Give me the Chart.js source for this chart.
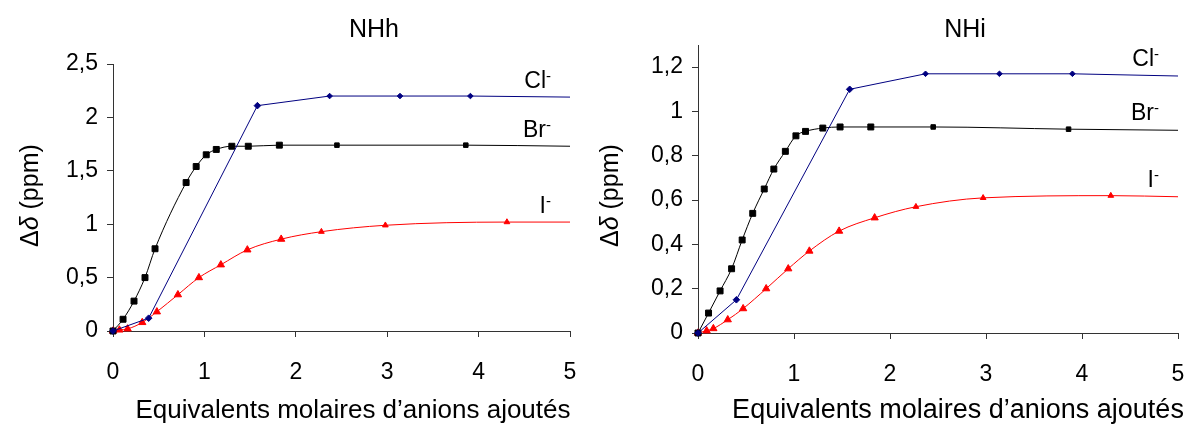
<!DOCTYPE html>
<html>
<head>
<meta charset="utf-8">
<script src="https://cdn.jsdelivr.net/npm/chart.js@4.4.0/dist/chart.umd.min.js"></script>
<style>
  body { margin: 0; background: #fff; width: 1192px; height: 425px; overflow: hidden; }
  .box { position: absolute; top: 0; width: 596px; height: 425px; }
</style>
</head>
<body>
<div class="box" style="left:0"><canvas id="nhh" width="596" height="425"></canvas></div>
<div class="box" style="left:596px"><canvas id="nhi" width="596" height="425"></canvas></div>
<script>
// x = equivalents of anion added, y = delta shift (ppm)
// NHh
var nhhClX = [0, 0.39, 1.58, 2.37, 3.14, 3.91];
var nhhClY = [0, 0.12, 2.11, 2.2, 2.2, 2.2];
var nhhBrX = [0, 0.11, 0.23, 0.35, 0.46, 0.8, 0.91, 1.02, 1.13, 1.3, 1.48, 1.82, 2.45, 3.86];
var nhhBrY = [0, 0.11, 0.28, 0.5, 0.77, 1.39, 1.54, 1.65, 1.7, 1.73, 1.73, 1.74, 1.74, 1.74];
var nhhIX = [0, 0.07, 0.16, 0.32, 0.48, 0.71, 0.94, 1.18, 1.47, 1.84, 2.28, 2.98, 4.31];
var nhhIY = [0, 0.01, 0.02, 0.08, 0.18, 0.34, 0.5, 0.62, 0.76, 0.86, 0.93, 0.99, 1.02];
var nhhEnds = [2.19, 1.73, 1.02]; // curves continue to x = 5

// NHi
var nhiClX = [0, 0.4, 1.58, 2.37, 3.14, 3.9];
var nhiClY = [0, 0.15, 1.1, 1.17, 1.17, 1.17];
var nhiBrX = [0, 0.11, 0.23, 0.35, 0.46, 0.57, 0.69, 0.79, 0.91, 1.02, 1.12, 1.3, 1.48, 1.8, 2.45, 3.86];
var nhiBrY = [0, 0.09, 0.19, 0.29, 0.42, 0.54, 0.65, 0.74, 0.82, 0.89, 0.91, 0.925, 0.93, 0.93, 0.93, 0.92];
var nhiIX = [0, 0.09, 0.16, 0.31, 0.47, 0.71, 0.94, 1.16, 1.47, 1.84, 2.27, 2.97, 4.3];
var nhiIY = [0, 0.01, 0.02, 0.06, 0.11, 0.2, 0.29, 0.37, 0.46, 0.52, 0.57, 0.61, 0.62];
var nhiEnds = [1.16, 0.915, 0.615];

var anions = ['Cl', 'Br', 'I'];
var xTicks = [0, 1, 2, 3, 4, 5];
var xTitle = 'Equivalents molaires d\u2019anions ajout\u00e9s';

var FONT = '"Liberation Sans", Arial, sans-serif';

function pts(xs, ys, end) {
  var out = xs.map(function(x, i) { return { x: x, y: ys[i] }; });
  out.push({ x: 5, y: end });
  return out;
}

function comma(v) {
  return (Math.round(v * 10) / 10).toString().replace('.', ',');
}

var textPlugin = {
  id: 'texts',
  afterDraw: function(chart) {
    var o = chart.options.plugins.texts;
    var ctx = chart.ctx;
    var xs = chart.scales.x, ys = chart.scales.y;
    ctx.save();
    ctx.fillStyle = '#000';
    ctx.textBaseline = 'alphabetic';

    // title
    ctx.font = '25px ' + FONT;
    ctx.textAlign = 'center';
    ctx.fillText(o.title, o.titleX, 37);

    // x axis title
    ctx.font = o.xTitleSize + 'px ' + FONT;
    ctx.fillText(xTitle, o.xTitleX, 418);

    // series labels with superscript minus
    o.ends.forEach(function(v, i) {
      var right = xs.getPixelForValue(5) - 18;
      var base = ys.getPixelForValue(v) - o.labelGap;
      ctx.font = '23px ' + FONT;
      ctx.textAlign = 'right';
      ctx.fillText(anions[i], right - 6, base);
      ctx.font = '15px ' + FONT;
      ctx.textAlign = 'left';
      ctx.fillText('-', right - 6, base - 7);
    });

    // y axis title, rotated, delta italic
    ctx.translate(o.yTitleX, 247);
    ctx.rotate(-Math.PI / 2);
    ctx.textAlign = 'left';
    var x = 0;
    ctx.font = '25px ' + FONT;
    ctx.fillText('\u0394', x, 0);
    x += ctx.measureText('\u0394').width;
    ctx.font = 'italic 25px ' + FONT;
    ctx.fillText('\u03b4', x, 0);
    x += ctx.measureText('\u03b4').width;
    ctx.font = '25px ' + FONT;
    ctx.fillText(' (ppm)', x, 0);
    ctx.restore();
  }
};

function makeChart(id, data, opt) {
  var small = function(c) { return c.raw && c.raw.x > 2; };
  var last = function(c) { return c.dataIndex === c.dataset.data.length - 1; };
  var datasets = [
    {
      label: 'Cl-', data: data[0], borderColor: '#000080', backgroundColor: '#000080',
      borderWidth: 1, tension: 0, pointStyle: 'rectRot',
      pointRadius: function(c) { return last(c) ? 0 : (small(c) ? 2.8 : 3.3); }
    },
    {
      label: 'Br-', data: data[1], borderColor: '#000000', backgroundColor: '#000000',
      borderWidth: 1, cubicInterpolationMode: 'monotone', pointStyle: 'rect',
      pointRadius: function(c) { return last(c) ? 0 : (small(c) ? 3.2 : 4.2); }
    },
    {
      label: 'I-', data: data[2], borderColor: '#ff0000', backgroundColor: '#ff0000',
      borderWidth: 1, cubicInterpolationMode: 'monotone', pointStyle: 'triangle',
      pointRadius: function(c) { return last(c) ? 0 : (small(c) ? 3.3 : 4.2); }
    }
  ];
  datasets.forEach(function(d) { d.clip = false; d.pointBorderWidth = 1; d.pointHoverRadius = 0; });

  var axisColor = '#333';
  return new Chart(document.getElementById(id), {
    type: 'line',
    data: { datasets: datasets },
    plugins: [textPlugin],
    options: {
      responsive: false,
      animation: false,
      events: [],
      layout: { padding: { top: opt.top, right: opt.right, left: 0, bottom: 0 } },
      plugins: {
        legend: { display: false },
        tooltip: { enabled: false },
        texts: opt.texts
      },
      scales: {
        x: {
          type: 'linear', min: 0, max: 5,
          afterFit: function(s) {
            s.height = opt.xHeight;
            s.paddingLeft = 0;
            s.paddingRight = 0;
          },
          afterBuildTicks: function(s) { s.ticks = xTicks.map(function(v) { return { value: v }; }); },
          ticks: { color: '#000', padding: 22, font: { family: FONT, size: 23 }, maxRotation: 0 },
          grid: { drawOnChartArea: false, drawTicks: true, tickLength: 6, color: axisColor },
          border: { display: true, color: axisColor, width: 1 }
        },
        y: {
          min: 0, max: opt.yMax,
          afterFit: function(s) {
            s.width = opt.yWidth;
            s.paddingTop = 0;
            s.paddingBottom = 0;
          },
          afterBuildTicks: function(s) {
            var t = [];
            for (var v = 0; v <= opt.yTop + 1e-9; v += opt.step) t.push({ value: Math.round(v * 10) / 10 });
            s.ticks = t;
          },
          ticks: { color: '#000', padding: 9, font: { family: FONT, size: 23 }, callback: comma },
          grid: { drawOnChartArea: false, drawTicks: true, tickLength: 6, color: axisColor },
          border: { display: true, color: axisColor, width: 1 }
        }
      }
    }
  });
}

makeChart('nhh', [
  pts(nhhClX, nhhClY, nhhEnds[0]),
  pts(nhhBrX, nhhBrY, nhhEnds[1]),
  pts(nhhIX, nhhIY, nhhEnds[2])
], {
  top: 64, right: 26, xHeight: 94, yWidth: 113, yMax: 2.5, yTop: 2.5, step: 0.5,
  texts: { title: 'NHh', titleX: 374, xTitleX: 353, xTitleSize: 26, yTitleX: 38, ends: nhhEnds, labelGap: 9 }
});

makeChart('nhi', [
  pts(nhiClX, nhiClY, nhiEnds[0]),
  pts(nhiBrX, nhiBrY, nhiEnds[1]),
  pts(nhiIX, nhiIY, nhiEnds[2])
], {
  top: 45, right: 14, xHeight: 92, yWidth: 102, yMax: 1.3, yTop: 1.2, step: 0.2,
  texts: { title: 'NHi', titleX: 369, xTitleX: 362, xTitleSize: 27, yTitleX: 22, ends: nhiEnds, labelGap: 10 }
});
</script>
</body>
</html>
